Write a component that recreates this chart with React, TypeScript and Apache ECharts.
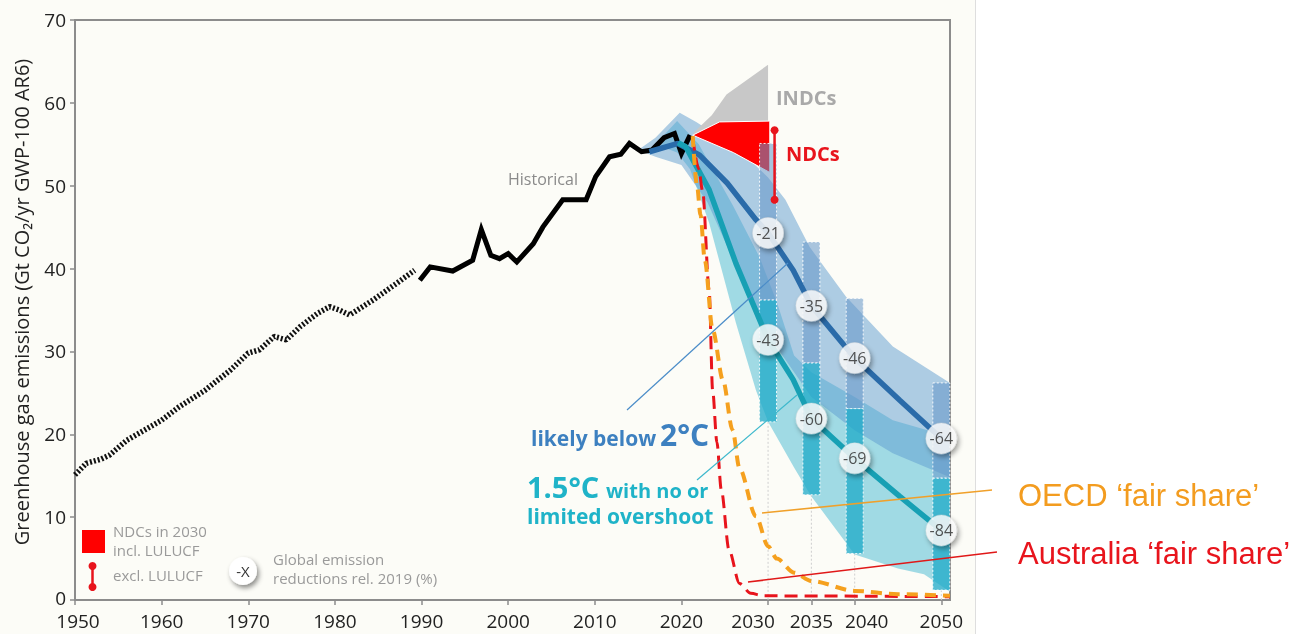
import React, { useEffect, useRef } from "react";
import * as echarts from "echarts";

// ---------- data ----------
const xTickYears = [1950, 1960, 1970, 1980, 1990, 2000, 2010, 2020, 2030, 2035, 2040, 2050];

const histDottedYears = [1950, 1951.3, 1953, 1954, 1956, 1958, 1960, 1962, 1965, 1968, 1970, 1971.3, 1973, 1974.4, 1976, 1978, 1979.4, 1980.5, 1981.7, 1984.4, 1987.1, 1989.2];
const histDottedValues = [15.1, 16.5, 17, 17.5, 19.3, 20.5, 21.7, 23.3, 25.3, 27.8, 29.8, 30.2, 31.8, 31.4, 33, 34.6, 35.4, 35, 34.4, 36.2, 38.2, 39.8];

const histSolidYears = [1989.8, 1991, 1993.6, 1995.9, 1996.9, 1998, 1999, 2000, 2001, 2002.9, 2004, 2006.3, 2009, 2010.1, 2011.7, 2013, 2014, 2015.4, 2016.6, 2018, 2019.2, 2020, 2021];
const histSolidValues = [38.6, 40.2, 39.7, 41, 44.7, 41.6, 41.2, 41.8, 40.8, 43, 45, 48.3, 48.3, 51.1, 53.5, 53.8, 55.1, 54.1, 54.3, 55.8, 56.3, 53.9, 56.1];

const blueMedianYears = [2016.3, 2019.6, 2022.1, 2025.3, 2028.6, 2030, 2032.9, 2035, 2040, 2045.2, 2050];
const blueMedianValues = [54.1, 55.1, 53.7, 50.3, 45.9, 44.3, 39.8, 35.5, 29.2, 24.1, 19.5];

const tealMedianYears = [2019.6, 2020.5, 2023.2, 2026.3, 2030, 2032.9, 2035, 2040, 2045.2, 2050];
const tealMedianValues = [55.2, 54.7, 49.5, 40.6, 31.4, 26.6, 21.9, 17.1, 12.5, 8.4];

const band2UpperYears = [2015, 2017, 2019.8, 2021.7, 2025, 2028, 2030, 2032, 2034.8, 2039, 2044.4, 2051];
const band2UpperValues = [54.3, 55.8, 58.8, 57.7, 55.5, 53, 51, 48.3, 42.6, 36.6, 30.6, 26.2];
const band2LowerYears = [2015, 2017, 2020, 2023, 2026, 2030, 2035, 2040, 2044.4, 2051];
const band2LowerValues = [54.3, 53.5, 52.5, 48, 41, 32, 24.5, 20.5, 17.7, 14.8];

const band15UpperYears = [2017, 2019.5, 2022, 2026, 2029, 2031, 2033, 2035, 2040, 2044.4, 2051];
const band15UpperValues = [55, 57.8, 55, 47.5, 41.4, 36, 29.5, 27.5, 24.5, 21.7, 19.7];
const band15LowerYears = [2017, 2019.5, 2021, 2023.2, 2026.3, 2028.6, 2030, 2033, 2035, 2040, 2045, 2048, 2051];
const band15LowerValues = [55, 54, 52, 45.5, 33.4, 25.3, 21.5, 16, 12.5, 5.5, 3.8, 3.1, 1];

const indcYears = [2021.3, 2023.5, 2025.2, 2030, 2030];
const indcValues = [56.3, 58.5, 61, 64.6, 57.8];
const ndcYears = [2021.3, 2024.4, 2030.2, 2030.2, 2026];
const ndcValues = [56.1, 57.7, 57.8, 51.6, 54.0];

const ndcExclYear = 2030.75;
const ndcExclHigh = 56.7;
const ndcExclLow = 48.3;

const barYears = [2030, 2035, 2040, 2050];
const blueBarHigh = [55.1, 43.2, 36.4, 26.2];
const blueBarLow = [36.2, 28.6, 23.1, 14.7];
const tealBarHigh = [36.2, 28.6, 23.1, 14.7];
const tealBarLow = [21.5, 12.7, 5.6, 1.2];

const circleYears = [2030, 2035, 2040, 2050];
const blueCircleValues = [44.3, 35.5, 29.2, 19.5];
const blueCircleLabels = ["-21", "-35", "-46", "-64"];
const tealCircleValues = [31.4, 21.9, 17.1, 8.4];
const tealCircleLabels = ["-43", "-60", "-69", "-84"];

const oecdYears = [2021.3, 2021.8, 2022.2, 2022.7, 2023.6, 2024.8, 2025.9, 2026.7, 2028.6, 2030, 2031, 2033, 2035, 2040, 2045, 2051];
const oecdValues = [56, 50, 46.5, 41, 32.6, 26.5, 20.5, 15.9, 10.1, 6.5, 5, 3.3, 2.3, 1.1, 0.7, 0.5];

const ausYears = [2021.3, 2022, 2022.45, 2023.2, 2023.6, 2024.1, 2024.6, 2025.5, 2026.7, 2028, 2029.5, 2051];
const ausValues = [55.8, 52, 49.3, 37.4, 25.3, 19, 13.3, 6, 2, 0.8, 0.5, 0.4];

// ---------- helpers ----------
const FONT = '"Open Sans", "Noto Sans", sans-serif';
const zip = (xs: number[], ys: number[]) => xs.map((x, i) => [x, ys[i]]);

function bandSeries(upY: number[], upV: number[], loY: number[], loV: number[], fill: string, z: number) {
  return {
    type: "custom",
    z,
    silent: true,
    data: [[2030, 30]],
    renderItem: (_p: any, api: any) => {
      const pts: number[][] = [];
      upY.forEach((y, i) => pts.push(api.coord([y, upV[i]])));
      for (let i = loY.length - 1; i >= 0; i--) pts.push(api.coord([loY[i], loV[i]]));
      return { type: "polygon", shape: { points: pts }, style: { fill } };
    },
  };
}

function polySeries(xs: number[], ys: number[], fill: string, stroke: string | null, z: number) {
  return {
    type: "custom",
    z,
    silent: true,
    data: [[2030, 30]],
    renderItem: (_p: any, api: any) => {
      const pts = xs.map((x, i) => api.coord([x, ys[i]]));
      return {
        type: "polygon",
        shape: { points: pts },
        style: { fill, stroke: stroke || "none", lineWidth: stroke ? 1 : 0 },
      };
    },
  };
}

function barSeries(lows: number[], highs: number[], fill: string, z: number) {
  return {
    type: "custom",
    z,
    silent: true,
    data: barYears.map((y, i) => [y, lows[i], highs[i]]),
    renderItem: (_p: any, api: any) => {
      const yr = api.value(0);
      const top = api.coord([yr, api.value(2)]);
      const bot = api.coord([yr, api.value(1)]);
      const w = 17;
      return {
        type: "rect",
        shape: { x: top[0] - w / 2, y: top[1], width: w, height: bot[1] - top[1] },
        style: { fill, stroke: "rgba(255,255,255,0.9)", lineWidth: 1, lineDash: [2, 2] },
      };
    },
  };
}

export default function App() {
  const ref = useRef<HTMLDivElement>(null);

  useEffect(() => {
    if (!ref.current) return;
    const chart = echarts.init(ref.current, null, { renderer: "svg" });

    const txt = (x: number, y: number, text: string, o: any = {}) => ({
      type: "text",
      x,
      y,
      z: 100,
      silent: true,
      style: {
        text,
        fill: o.fill || "#999",
        fontSize: o.fontSize || 16,
        fontWeight: o.fontWeight || "normal",
        fontFamily: o.fontFamily || FONT,
        textAlign: o.align || "left",
        textVerticalAlign: "middle",
      },
      rotation: o.rotation || 0,
    });
    const ln = (x1: number, y1: number, x2: number, y2: number, stroke: string, lineWidth = 1.2) => ({
      type: "line",
      z: 100,
      silent: true,
      shape: { x1, y1, x2, y2 },
      style: { stroke, lineWidth },
    });

    const xl = { color: "#222", fontSize: 19, fontFamily: FONT };

    const option: any = {
      animation: false,
      grid: {
        left: 75,
        right: 364,
        top: 20,
        bottom: 34,
        show: true,
        borderColor: "#8c8c8c",
        borderWidth: 2,
        backgroundColor: "transparent",
      },
      xAxis: {
        type: "value",
        min: 1950,
        max: 2051,
        axisLine: { lineStyle: { color: "#8c8c8c", width: 2 } },
        axisTick: { show: true, customValues: xTickYears, length: 5, lineStyle: { color: "#8c8c8c", width: 1.5 } },
        axisLabel: {
          customValues: xTickYears,
          margin: 11,
          formatter: (v: number) => {
            const y = Math.round(v);
            if (y === 2030) return "{l|" + y + "}";
            if (y === 2040) return "{r|" + y + "}";
            if (y === 1950) return "{s|" + y + "}";
            return "{n|" + y + "}";
          },
          rich: {
            n: { ...xl },
            l: { ...xl, padding: [0, 30, 0, 0] },
            r: { ...xl, padding: [0, 0, 0, 24] },
            s: { ...xl, padding: [0, 0, 0, 6] },
          },
        },
        splitLine: { show: false },
      },
      yAxis: {
        type: "value",
        min: 0,
        max: 70,
        interval: 10,
        axisLine: { show: true, lineStyle: { color: "#8c8c8c", width: 2 } },
        axisTick: { show: true, length: 5, lineStyle: { color: "#8c8c8c", width: 1.5 } },
        axisLabel: {
          margin: 9,
          formatter: (v: number) => (v === 0 ? "{z|0}" : "{n|" + v + "}"),
          rich: {
            n: { color: "#222", fontSize: 19, fontFamily: FONT },
            z: { color: "#222", fontSize: 19, fontFamily: FONT, padding: [0, 0, 5, 0] },
          },
        },
        splitLine: { show: false },
      },
      graphic: [
        {
          type: "rect",
          z: -10,
          silent: true,
          shape: { x: 0, y: 0, width: 975, height: 634 },
          style: { fill: "#fcfcf7" },
        },
        { type: "line", z: -9, silent: true, shape: { x1: 975.5, y1: 0, x2: 975.5, y2: 634 }, style: { stroke: "#dedede", lineWidth: 1 } },
        txt(21, 302, "Greenhouse gas emissions (Gt CO₂/yr GWP-100 AR6)", { fill: "#222", fontSize: 20, align: "center", rotation: Math.PI / 2 }),
        txt(508, 179, "Historical", { fill: "#8a8a8a", fontSize: 16 }),
        txt(776, 97, "INDCs", { fill: "#a9a9a9", fontSize: 20, fontWeight: "bold" }),
        txt(786, 153, "NDCs", { fill: "#e8141c", fontSize: 20, fontWeight: "bold" }),
        // 2°C annotation
        ln(627, 410, 788, 263, "#4a8cc8", 1.2),
        txt(531, 438, "likely below", { fill: "#3d80c0", fontSize: 21, fontWeight: "bold" }),
        txt(660, 434, "2°C", { fill: "#3d80c0", fontSize: 30, fontWeight: "bold" }),
        // 1.5°C annotation
        ln(697, 480, 797, 395, "#3cb8cc", 1.2),
        txt(527, 486, "1.5°C", { fill: "#1fb3c8", fontSize: 29, fontWeight: "bold" }),
        txt(606, 490, "with no or", { fill: "#1fb3c8", fontSize: 20, fontWeight: "bold" }),
        txt(527, 516, "limited overshoot", { fill: "#1fb3c8", fontSize: 21, fontWeight: "bold" }),
        // fair share annotations
        ln(762, 513, 992, 490, "#f0a02a", 1.6),
        ln(748, 582, 997, 552, "#e01818", 1.6),
        txt(1018, 495, "OECD ‘fair share’", { fill: "#f39c1f", fontSize: 31, fontFamily: '"Liberation Sans", Arial, sans-serif' }),
        txt(1018, 553, "Australia ‘fair share’", { fill: "#e8141c", fontSize: 31, fontFamily: '"Liberation Sans", Arial, sans-serif' }),
        // legend
        { type: "rect", z: 100, silent: true, shape: { x: 82, y: 530, width: 23, height: 23 }, style: { fill: "#ff0000" } },
        ln(92.5, 566, 92.5, 587, "#e8141c", 2.5),
        { type: "circle", z: 101, silent: true, shape: { cx: 92.5, cy: 566, r: 4 }, style: { fill: "#e8141c" } },
        { type: "circle", z: 101, silent: true, shape: { cx: 92.5, cy: 587, r: 4 }, style: { fill: "#e8141c" } },
        txt(113, 531, "NDCs in 2030", { fill: "#9a9a9a", fontSize: 15 }),
        txt(113, 550, "incl. LULUCF", { fill: "#9a9a9a", fontSize: 15 }),
        txt(113, 575, "excl. LULUCF", { fill: "#9a9a9a", fontSize: 15 }),
        {
          type: "circle",
          z: 100,
          silent: true,
          shape: { cx: 243, cy: 571, r: 14 },
          style: { fill: "#fff", shadowBlur: 5, shadowOffsetX: 2, shadowOffsetY: 3, shadowColor: "rgba(0,0,0,0.45)" },
        },
        txt(243, 571, "-X", { fill: "#333", fontSize: 15, align: "center" }),
        txt(273, 559, "Global emission", { fill: "#9a9a9a", fontSize: 15 }),
        txt(273, 578, "reductions rel. 2019 (%)", { fill: "#9a9a9a", fontSize: 15 }),
      ],
      series: [
        bandSeries(band15UpperYears, band15UpperValues, band15LowerYears, band15LowerValues, "rgba(143,211,224,0.85)", 1),
        bandSeries(band2UpperYears, band2UpperValues, band2LowerYears, band2LowerValues, "rgba(93,155,208,0.5)", 1),
        polySeries(indcYears, indcValues, "#c8c8c8", null, 2),
        polySeries(ndcYears, ndcValues, "#ff0000", "#ffffff", 2),
        // guide lines below bars
        {
          type: "custom",
          z: 2,
          silent: true,
          data: barYears.map((y, i) => [y, tealBarLow[i]]),
          renderItem: (_p: any, api: any) => {
            const a = api.coord([api.value(0), api.value(1)]);
            const b = api.coord([api.value(0), 0]);
            return {
              type: "line",
              shape: { x1: a[0], y1: a[1], x2: b[0], y2: b[1] },
              style: { stroke: "#cfcfcf", lineWidth: 1, lineDash: [2, 2] },
            };
          },
        },
        barSeries(blueBarLow, blueBarHigh, "rgba(100,150,200,0.55)", 3),
        barSeries(tealBarLow, tealBarHigh, "rgba(30,170,200,0.75)", 3),
        {
          type: "line",
          z: 4,
          silent: true,
          showSymbol: false,
          data: zip(histDottedYears, histDottedValues),
          lineStyle: { color: "#111", width: 5.5, type: [2, 2], cap: "butt" },
        },
        {
          type: "line",
          z: 4,
          silent: true,
          showSymbol: false,
          data: zip(histSolidYears, histSolidValues),
          lineStyle: { color: "#000", width: 5, join: "miter" },
        },
        {
          type: "line",
          z: 5,
          silent: true,
          showSymbol: false,
          data: zip(blueMedianYears, blueMedianValues),
          lineStyle: { color: "#2a6ba9", width: 5.5 },
        },
        {
          type: "line",
          z: 5,
          silent: true,
          showSymbol: false,
          data: zip(tealMedianYears, tealMedianValues),
          lineStyle: { color: "#17a0b4", width: 5.5 },
        },
        {
          type: "line",
          z: 6,
          silent: true,
          showSymbol: false,
          smooth: 0.3,
          smoothMonotone: "x",
          data: zip(ausYears, ausValues),
          lineStyle: { color: "#e8141c", width: 3, type: [13, 7] },
        },
        {
          type: "line",
          z: 6,
          silent: true,
          showSymbol: false,
          smooth: 0.3,
          smoothMonotone: "x",
          data: zip(oecdYears, oecdValues),
          lineStyle: { color: "#f5a01e", width: 4, type: [11, 7] },
        },
        {
          type: "line",
          z: 6,
          silent: true,
          symbol: "circle",
          symbolSize: 8,
          showSymbol: true,
          data: [
            [ndcExclYear, ndcExclHigh],
            [ndcExclYear, ndcExclLow],
          ],
          itemStyle: { color: "#e8141c" },
          lineStyle: { color: "#e8141c", width: 2.5 },
        },
        ...[
          { vals: blueCircleValues, labels: blueCircleLabels },
          { vals: tealCircleValues, labels: tealCircleLabels },
        ].map((g) => ({
          type: "scatter",
          z: 8,
          silent: true,
          symbol: "circle",
          symbolSize: 31,
          data: circleYears.map((y, i) => [y, g.vals[i], g.labels[i]]),
          itemStyle: {
            color: "#ffffff",
            borderColor: "#d8d8d8",
            borderWidth: 0.5,
            shadowBlur: 5,
            shadowOffsetX: 2,
            shadowOffsetY: 3,
            shadowColor: "rgba(0,0,0,0.45)",
          },
          label: {
            show: true,
            position: "inside",
            formatter: (p: any) => p.value[2],
            color: "#2a2a2a",
            fontSize: 16,
            fontFamily: FONT,
          },
        })),
      ],
    };

    chart.setOption(option);
    return () => chart.dispose();
  }, []);

  return <div ref={ref} style={{ position: "fixed", left: 0, top: 0, width: 1314, height: 634 }} />;
}
